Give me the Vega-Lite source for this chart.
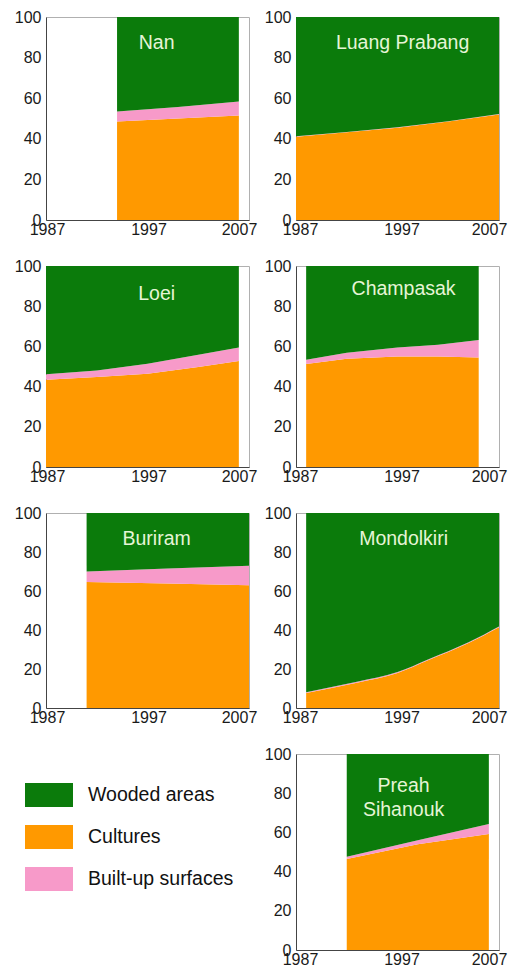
{
  "$schema": "https://vega.github.io/schema/vega-lite/v6.json",
  "padding": {"left": 13, "top": 8, "right": 5, "bottom": 5},
  "background": "white",
  "bounds": "flush",
  "columns": 2,
  "spacing": {"row": 46, "column": 47},
  "data": {"values": [
    {"region": "Nan", "year": 1994, "cover": "Cultures", "pct": 48.5},
    {"region": "Nan", "year": 1994, "cover": "Built-up surfaces", "pct": 5.0},
    {"region": "Nan", "year": 1994, "cover": "Wooded areas", "pct": 46.5},
    {"region": "Nan", "year": 2000, "cover": "Cultures", "pct": 50.0},
    {"region": "Nan", "year": 2000, "cover": "Built-up surfaces", "pct": 5.7},
    {"region": "Nan", "year": 2000, "cover": "Wooded areas", "pct": 44.3},
    {"region": "Nan", "year": 2006, "cover": "Cultures", "pct": 51.5},
    {"region": "Nan", "year": 2006, "cover": "Built-up surfaces", "pct": 6.9},
    {"region": "Nan", "year": 2006, "cover": "Wooded areas", "pct": 41.6},

    {"region": "Luang Prabang", "year": 1987, "cover": "Cultures", "pct": 41.0},
    {"region": "Luang Prabang", "year": 1987, "cover": "Built-up surfaces", "pct": 0.2},
    {"region": "Luang Prabang", "year": 1987, "cover": "Wooded areas", "pct": 58.8},
    {"region": "Luang Prabang", "year": 1992, "cover": "Cultures", "pct": 43.2},
    {"region": "Luang Prabang", "year": 1992, "cover": "Built-up surfaces", "pct": 0.2},
    {"region": "Luang Prabang", "year": 1992, "cover": "Wooded areas", "pct": 56.6},
    {"region": "Luang Prabang", "year": 1997, "cover": "Cultures", "pct": 45.5},
    {"region": "Luang Prabang", "year": 1997, "cover": "Built-up surfaces", "pct": 0.2},
    {"region": "Luang Prabang", "year": 1997, "cover": "Wooded areas", "pct": 54.3},
    {"region": "Luang Prabang", "year": 2002, "cover": "Cultures", "pct": 48.5},
    {"region": "Luang Prabang", "year": 2002, "cover": "Built-up surfaces", "pct": 0.2},
    {"region": "Luang Prabang", "year": 2002, "cover": "Wooded areas", "pct": 51.3},
    {"region": "Luang Prabang", "year": 2007, "cover": "Cultures", "pct": 52.0},
    {"region": "Luang Prabang", "year": 2007, "cover": "Built-up surfaces", "pct": 0.2},
    {"region": "Luang Prabang", "year": 2007, "cover": "Wooded areas", "pct": 47.8},

    {"region": "Loei", "year": 1987, "cover": "Cultures", "pct": 43.4},
    {"region": "Loei", "year": 1987, "cover": "Built-up surfaces", "pct": 2.7},
    {"region": "Loei", "year": 1987, "cover": "Wooded areas", "pct": 53.9},
    {"region": "Loei", "year": 1992, "cover": "Cultures", "pct": 44.8},
    {"region": "Loei", "year": 1992, "cover": "Built-up surfaces", "pct": 3.2},
    {"region": "Loei", "year": 1992, "cover": "Wooded areas", "pct": 52.0},
    {"region": "Loei", "year": 1997, "cover": "Cultures", "pct": 46.4},
    {"region": "Loei", "year": 1997, "cover": "Built-up surfaces", "pct": 5.0},
    {"region": "Loei", "year": 1997, "cover": "Wooded areas", "pct": 48.6},
    {"region": "Loei", "year": 2002, "cover": "Cultures", "pct": 49.7},
    {"region": "Loei", "year": 2002, "cover": "Built-up surfaces", "pct": 6.2},
    {"region": "Loei", "year": 2002, "cover": "Wooded areas", "pct": 44.1},
    {"region": "Loei", "year": 2006, "cover": "Cultures", "pct": 52.7},
    {"region": "Loei", "year": 2006, "cover": "Built-up surfaces", "pct": 6.7},
    {"region": "Loei", "year": 2006, "cover": "Wooded areas", "pct": 40.6},

    {"region": "Champasak", "year": 1988, "cover": "Cultures", "pct": 51.2},
    {"region": "Champasak", "year": 1988, "cover": "Built-up surfaces", "pct": 2.1},
    {"region": "Champasak", "year": 1988, "cover": "Wooded areas", "pct": 46.7},
    {"region": "Champasak", "year": 1992, "cover": "Cultures", "pct": 53.8},
    {"region": "Champasak", "year": 1992, "cover": "Built-up surfaces", "pct": 3.0},
    {"region": "Champasak", "year": 1992, "cover": "Wooded areas", "pct": 43.2},
    {"region": "Champasak", "year": 1997, "cover": "Cultures", "pct": 55.0},
    {"region": "Champasak", "year": 1997, "cover": "Built-up surfaces", "pct": 4.5},
    {"region": "Champasak", "year": 1997, "cover": "Wooded areas", "pct": 40.5},
    {"region": "Champasak", "year": 2001, "cover": "Cultures", "pct": 55.0},
    {"region": "Champasak", "year": 2001, "cover": "Built-up surfaces", "pct": 5.8},
    {"region": "Champasak", "year": 2001, "cover": "Wooded areas", "pct": 39.2},
    {"region": "Champasak", "year": 2005, "cover": "Cultures", "pct": 54.5},
    {"region": "Champasak", "year": 2005, "cover": "Built-up surfaces", "pct": 8.7},
    {"region": "Champasak", "year": 2005, "cover": "Wooded areas", "pct": 36.8},

    {"region": "Buriram", "year": 1991, "cover": "Cultures", "pct": 64.6},
    {"region": "Buriram", "year": 1991, "cover": "Built-up surfaces", "pct": 5.4},
    {"region": "Buriram", "year": 1991, "cover": "Wooded areas", "pct": 30.0},
    {"region": "Buriram", "year": 1999, "cover": "Cultures", "pct": 63.8},
    {"region": "Buriram", "year": 1999, "cover": "Built-up surfaces", "pct": 7.7},
    {"region": "Buriram", "year": 1999, "cover": "Wooded areas", "pct": 28.5},
    {"region": "Buriram", "year": 2007, "cover": "Cultures", "pct": 62.9},
    {"region": "Buriram", "year": 2007, "cover": "Built-up surfaces", "pct": 10.1},
    {"region": "Buriram", "year": 2007, "cover": "Wooded areas", "pct": 27.0},

    {"region": "Mondolkiri", "year": 1988, "cover": "Cultures", "pct": 7.7},
    {"region": "Mondolkiri", "year": 1988, "cover": "Built-up surfaces", "pct": 0.4},
    {"region": "Mondolkiri", "year": 1988, "cover": "Wooded areas", "pct": 91.9},
    {"region": "Mondolkiri", "year": 1993, "cover": "Cultures", "pct": 13.0},
    {"region": "Mondolkiri", "year": 1993, "cover": "Built-up surfaces", "pct": 0.4},
    {"region": "Mondolkiri", "year": 1993, "cover": "Wooded areas", "pct": 86.6},
    {"region": "Mondolkiri", "year": 1997, "cover": "Cultures", "pct": 18.0},
    {"region": "Mondolkiri", "year": 1997, "cover": "Built-up surfaces", "pct": 0.4},
    {"region": "Mondolkiri", "year": 1997, "cover": "Wooded areas", "pct": 81.6},
    {"region": "Mondolkiri", "year": 2000, "cover": "Cultures", "pct": 24.5},
    {"region": "Mondolkiri", "year": 2000, "cover": "Built-up surfaces", "pct": 0.4},
    {"region": "Mondolkiri", "year": 2000, "cover": "Wooded areas", "pct": 75.1},
    {"region": "Mondolkiri", "year": 2004, "cover": "Cultures", "pct": 33.3},
    {"region": "Mondolkiri", "year": 2004, "cover": "Built-up surfaces", "pct": 0.4},
    {"region": "Mondolkiri", "year": 2004, "cover": "Wooded areas", "pct": 66.3},
    {"region": "Mondolkiri", "year": 2007, "cover": "Cultures", "pct": 41.4},
    {"region": "Mondolkiri", "year": 2007, "cover": "Built-up surfaces", "pct": 0.4},
    {"region": "Mondolkiri", "year": 2007, "cover": "Wooded areas", "pct": 58.2},

    {"region": "Preah Sihanouk", "year": 1992, "cover": "Cultures", "pct": 46.4},
    {"region": "Preah Sihanouk", "year": 1992, "cover": "Built-up surfaces", "pct": 1.2},
    {"region": "Preah Sihanouk", "year": 1992, "cover": "Wooded areas", "pct": 52.4},
    {"region": "Preah Sihanouk", "year": 1999, "cover": "Cultures", "pct": 54.0},
    {"region": "Preah Sihanouk", "year": 1999, "cover": "Built-up surfaces", "pct": 2.0},
    {"region": "Preah Sihanouk", "year": 1999, "cover": "Wooded areas", "pct": 44.0},
    {"region": "Preah Sihanouk", "year": 2006, "cover": "Cultures", "pct": 59.2},
    {"region": "Preah Sihanouk", "year": 2006, "cover": "Built-up surfaces", "pct": 5.1},
    {"region": "Preah Sihanouk", "year": 2006, "cover": "Wooded areas", "pct": 35.7}
  ]},
  "concat": [
    {
      "width": 203, "height": 203,
      "layer": [
        {
          "transform": [
            {"filter": "datum.region === 'Nan'"},
            {"calculate": "indexof(['Cultures','Built-up surfaces','Wooded areas'], datum.cover)", "as": "k"}
          ],
          "mark": {"type": "area", "interpolate": "linear"},
          "encoding": {
            "x": {"field": "year", "type": "quantitative", "scale": {"domain": [1987, 2007], "nice": false, "zero": false}, "axis": {"values": [1987, 1997, 2007], "tickCount": 10, "format": "d", "labelOffset": {"condition": {"test": "datum.value == 2007", "value": -10}, "value": 1}}},
            "y": {"field": "pct", "type": "quantitative", "stack": "zero", "scale": {"domain": [0, 100]}, "axis": {"values": [0, 20, 40, 60, 80, 100], "tickCount": 10, "labelOverlap": false}},
            "color": {"field": "cover", "type": "nominal", "scale": {"domain": ["Wooded areas", "Cultures", "Built-up surfaces"], "range": ["#0b7b0b", "#ff9900", "#f79ac9"]}, "legend": {"title": null, "rowPadding": 6}},
            "order": {"field": "k", "type": "quantitative"}
          }
        },
        {
          "data": {"values": [{"label": "Nan"}]},
          "mark": {"type": "text", "font": "Liberation Sans", "fontSize": 19.5, "color": "#e6f5d6", "align": "center", "baseline": "middle"},
          "encoding": {"text": {"field": "label"}, "x": {"datum": 1997.9}, "y": {"datum": 87.2}}
        }
      ]
    },
    {
      "width": 203, "height": 203,
      "layer": [
        {
          "transform": [
            {"filter": "datum.region === 'Luang Prabang'"},
            {"calculate": "indexof(['Cultures','Built-up surfaces','Wooded areas'], datum.cover)", "as": "k"}
          ],
          "mark": {"type": "area", "interpolate": "linear"},
          "encoding": {
            "x": {"field": "year", "type": "quantitative", "scale": {"domain": [1987, 2007], "nice": false, "zero": false}, "axis": {"values": [1987, 1997, 2007], "tickCount": 10, "format": "d", "labelOffset": {"condition": {"test": "datum.value == 2007", "value": -10}, "value": 4}}},
            "y": {"field": "pct", "type": "quantitative", "stack": "zero", "scale": {"domain": [0, 100]}, "axis": {"values": [0, 20, 40, 60, 80, 100], "tickCount": 10, "labelOverlap": false}},
            "color": {"field": "cover", "type": "nominal", "scale": {"domain": ["Wooded areas", "Cultures", "Built-up surfaces"], "range": ["#0b7b0b", "#ff9900", "#f79ac9"]}, "legend": {"title": null, "rowPadding": 6}},
            "order": {"field": "k", "type": "quantitative"}
          }
        },
        {
          "data": {"values": [{"label": "Luang Prabang"}]},
          "mark": {"type": "text", "font": "Liberation Sans", "fontSize": 19.5, "color": "#e6f5d6", "align": "center", "baseline": "middle"},
          "encoding": {"text": {"field": "label"}, "x": {"datum": 1997.5}, "y": {"datum": 87}}
        }
      ]
    },
    {
      "width": 203, "height": 201,
      "layer": [
        {
          "transform": [
            {"filter": "datum.region === 'Loei'"},
            {"calculate": "indexof(['Cultures','Built-up surfaces','Wooded areas'], datum.cover)", "as": "k"}
          ],
          "mark": {"type": "area", "interpolate": "linear"},
          "encoding": {
            "x": {"field": "year", "type": "quantitative", "scale": {"domain": [1987, 2007], "nice": false, "zero": false}, "axis": {"values": [1987, 1997, 2007], "tickCount": 10, "format": "d", "labelOffset": {"condition": {"test": "datum.value == 2007", "value": -10}, "value": 1}}},
            "y": {"field": "pct", "type": "quantitative", "stack": "zero", "scale": {"domain": [0, 100]}, "axis": {"values": [0, 20, 40, 60, 80, 100], "tickCount": 10, "labelOverlap": false}},
            "color": {"field": "cover", "type": "nominal", "scale": {"domain": ["Wooded areas", "Cultures", "Built-up surfaces"], "range": ["#0b7b0b", "#ff9900", "#f79ac9"]}, "legend": {"title": null, "rowPadding": 6}},
            "order": {"field": "k", "type": "quantitative"}
          }
        },
        {
          "data": {"values": [{"label": "Loei"}]},
          "mark": {"type": "text", "font": "Liberation Sans", "fontSize": 19.5, "color": "#e6f5d6", "align": "center", "baseline": "middle"},
          "encoding": {"text": {"field": "label"}, "x": {"datum": 1997.9}, "y": {"datum": 86}}
        }
      ]
    },
    {
      "width": 203, "height": 201,
      "layer": [
        {
          "transform": [
            {"filter": "datum.region === 'Champasak'"},
            {"calculate": "indexof(['Cultures','Built-up surfaces','Wooded areas'], datum.cover)", "as": "k"}
          ],
          "mark": {"type": "area", "interpolate": "linear"},
          "encoding": {
            "x": {"field": "year", "type": "quantitative", "scale": {"domain": [1987, 2007], "nice": false, "zero": false}, "axis": {"values": [1987, 1997, 2007], "tickCount": 10, "format": "d", "labelOffset": {"condition": {"test": "datum.value == 2007", "value": -10}, "value": 4}}},
            "y": {"field": "pct", "type": "quantitative", "stack": "zero", "scale": {"domain": [0, 100]}, "axis": {"values": [0, 20, 40, 60, 80, 100], "tickCount": 10, "labelOverlap": false}},
            "color": {"field": "cover", "type": "nominal", "scale": {"domain": ["Wooded areas", "Cultures", "Built-up surfaces"], "range": ["#0b7b0b", "#ff9900", "#f79ac9"]}, "legend": {"title": null, "rowPadding": 6}},
            "order": {"field": "k", "type": "quantitative"}
          }
        },
        {
          "data": {"values": [{"label": "Champasak"}]},
          "mark": {"type": "text", "font": "Liberation Sans", "fontSize": 19.5, "color": "#e6f5d6", "align": "center", "baseline": "middle"},
          "encoding": {"text": {"field": "label"}, "x": {"datum": 1997.6}, "y": {"datum": 88.5}}
        }
      ]
    },
    {
      "width": 203, "height": 195,
      "layer": [
        {
          "transform": [
            {"filter": "datum.region === 'Buriram'"},
            {"calculate": "indexof(['Cultures','Built-up surfaces','Wooded areas'], datum.cover)", "as": "k"}
          ],
          "mark": {"type": "area", "interpolate": "linear"},
          "encoding": {
            "x": {"field": "year", "type": "quantitative", "scale": {"domain": [1987, 2007], "nice": false, "zero": false}, "axis": {"values": [1987, 1997, 2007], "tickCount": 10, "format": "d", "labelOffset": {"condition": {"test": "datum.value == 2007", "value": -10}, "value": 1}}},
            "y": {"field": "pct", "type": "quantitative", "stack": "zero", "scale": {"domain": [0, 100]}, "axis": {"values": [0, 20, 40, 60, 80, 100], "tickCount": 10, "labelOverlap": false}},
            "color": {"field": "cover", "type": "nominal", "scale": {"domain": ["Wooded areas", "Cultures", "Built-up surfaces"], "range": ["#0b7b0b", "#ff9900", "#f79ac9"]}, "legend": {"title": null, "rowPadding": 6}},
            "order": {"field": "k", "type": "quantitative"}
          }
        },
        {
          "data": {"values": [{"label": "Buriram"}]},
          "mark": {"type": "text", "font": "Liberation Sans", "fontSize": 19.5, "color": "#e6f5d6", "align": "center", "baseline": "middle"},
          "encoding": {"text": {"field": "label"}, "x": {"datum": 1997.9}, "y": {"datum": 86.7}}
        }
      ]
    },
    {
      "width": 203, "height": 195,
      "layer": [
        {
          "transform": [
            {"filter": "datum.region === 'Mondolkiri'"},
            {"calculate": "indexof(['Cultures','Built-up surfaces','Wooded areas'], datum.cover)", "as": "k"}
          ],
          "mark": {"type": "area", "interpolate": "monotone"},
          "encoding": {
            "x": {"field": "year", "type": "quantitative", "scale": {"domain": [1987, 2007], "nice": false, "zero": false}, "axis": {"values": [1987, 1997, 2007], "tickCount": 10, "format": "d", "labelOffset": {"condition": {"test": "datum.value == 2007", "value": -10}, "value": 4}}},
            "y": {"field": "pct", "type": "quantitative", "stack": "zero", "scale": {"domain": [0, 100]}, "axis": {"values": [0, 20, 40, 60, 80, 100], "tickCount": 10, "labelOverlap": false}},
            "color": {"field": "cover", "type": "nominal", "scale": {"domain": ["Wooded areas", "Cultures", "Built-up surfaces"], "range": ["#0b7b0b", "#ff9900", "#f79ac9"]}, "legend": {"title": null, "rowPadding": 6}},
            "order": {"field": "k", "type": "quantitative"}
          }
        },
        {
          "data": {"values": [{"label": "Mondolkiri"}]},
          "mark": {"type": "text", "font": "Liberation Sans", "fontSize": 19.5, "color": "#e6f5d6", "align": "center", "baseline": "middle"},
          "encoding": {"text": {"field": "label"}, "x": {"datum": 1997.6}, "y": {"datum": 86.7}}
        }
      ]
    },
    {
      "width": 203, "height": 196,
      "view": {"stroke": null},
      "transform": [{"filter": "false"}],
      "mark": {"type": "point", "opacity": 0},
      "encoding": {}
    },
    {
      "width": 203, "height": 196,
      "layer": [
        {
          "transform": [
            {"filter": "datum.region === 'Preah Sihanouk'"},
            {"calculate": "indexof(['Cultures','Built-up surfaces','Wooded areas'], datum.cover)", "as": "k"}
          ],
          "mark": {"type": "area", "interpolate": "linear"},
          "encoding": {
            "x": {"field": "year", "type": "quantitative", "scale": {"domain": [1987, 2007], "nice": false, "zero": false}, "axis": {"values": [1987, 1997, 2007], "tickCount": 10, "format": "d", "labelOffset": {"condition": {"test": "datum.value == 2007", "value": -10}, "value": 4}}},
            "y": {"field": "pct", "type": "quantitative", "stack": "zero", "scale": {"domain": [0, 100]}, "axis": {"values": [0, 20, 40, 60, 80, 100], "tickCount": 10, "labelOverlap": false}},
            "color": {"field": "cover", "type": "nominal", "scale": {"domain": ["Wooded areas", "Cultures", "Built-up surfaces"], "range": ["#0b7b0b", "#ff9900", "#f79ac9"]}, "legend": {"title": null, "rowPadding": 6}},
            "order": {"field": "k", "type": "quantitative"}
          }
        },
        {
          "data": {"values": [{"label": "Preah\nSihanouk"}]},
          "mark": {"type": "text", "font": "Liberation Sans", "fontSize": 19.5, "color": "#e6f5d6", "align": "center", "baseline": "middle", "lineBreak": "\n", "lineHeight": 24},
          "encoding": {"text": {"field": "label"}, "x": {"datum": 1997.6}, "y": {"datum": 83.7}}
        }
      ]
    }
  ],
  "config": {
    "view": {"stroke": "#b0b0b0", "strokeWidth": 1},
    "axis": {
      "title": null,
      "grid": false,
      "ticks": false,
      "labelFont": "Liberation Sans",
      "labelFontSize": 16,
      "labelColor": "#1a1a1a",
      "domainColor": "#444444",
      "domainWidth": 1,
      "labelFlush": false,
      "labelOverlap": false
    },
    "axisY": {"labelPadding": 5},
    "axisX": {"labelPadding": 1},
    "legend": {
      "orient": "none",
      "legendX": -21,
      "legendY": 754,
      "padding": 0,
      "symbolType": "M-1,-0.5H1V0.5H-1Z",
      "symbolSize": 2304,
      "symbolStrokeWidth": 0,
      "symbolOpacity": 1,
      "labelFont": "Liberation Sans",
      "labelFontSize": 19.5,
      "labelColor": "#111111",
      "labelOffset": 15
    }
  }
}
